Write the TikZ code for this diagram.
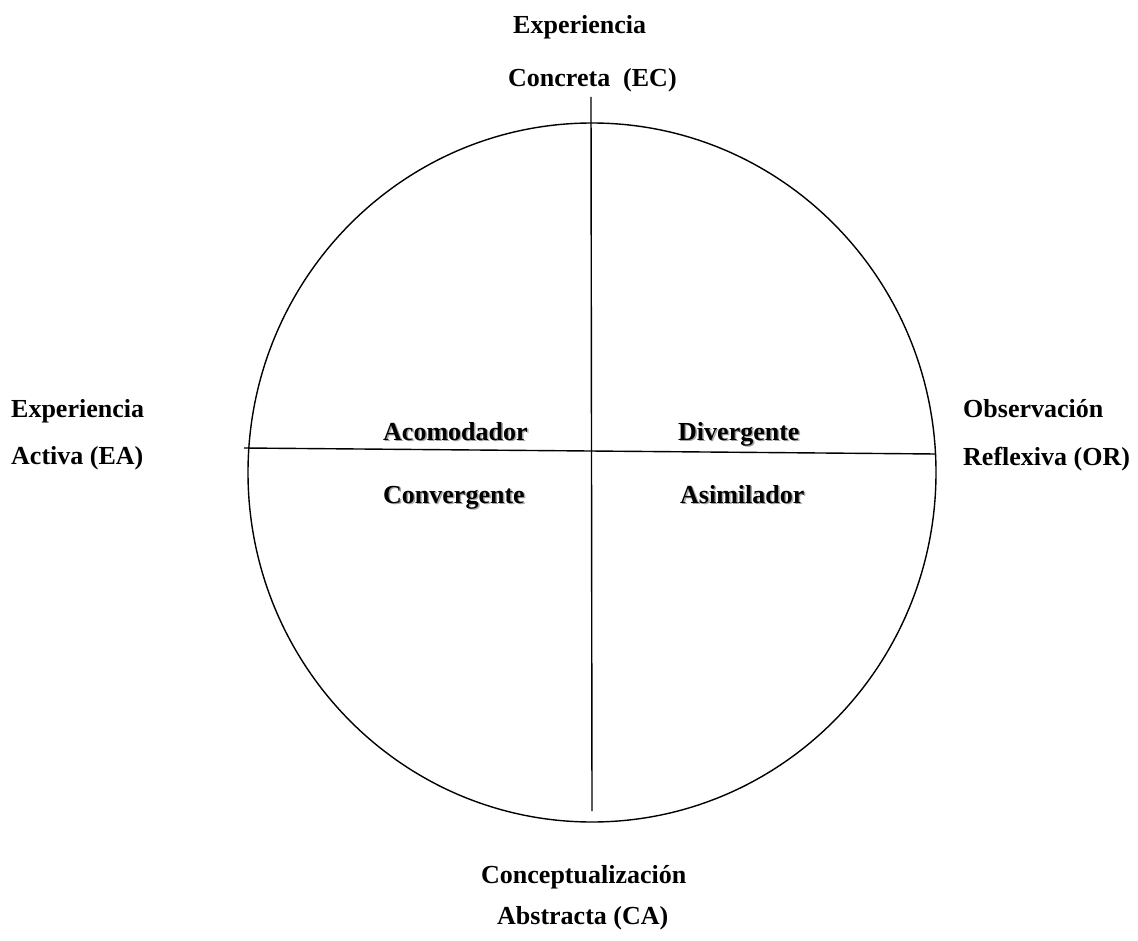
\documentclass[tikz,border=0pt]{standalone}
\usepackage{fontspec}
\setmainfont{Liberation Serif}
\usetikzlibrary{shapes.geometric}
\begin{document}
\begin{tikzpicture}[x=1pt,y=-1pt,
  lbl/.style={font=\fontsize{26}{30}\selectfont\bfseries, inner sep=0pt, anchor=base west},
  quad/.style={lbl},
  shadowtxt/.style={lbl, text=black!35},
  ln/.style={line width=1.4pt, black}]
\useasboundingbox (0,0) rectangle (1138,941);
% circle
\node[draw, line width=1.4pt, ellipse, minimum width=688pt, minimum height=699pt, inner sep=0pt] (circ) at (592,472.5) {};
% axes
\coordinate (vt) at (591,97);
\coordinate (vb) at (592,811);
\coordinate (hl) at (244,448);
\coordinate (hr) at (936,454);
\draw[ln] (vt) -- (vb);
\draw[ln] (hl) -- (hr);
% outer labels
\node[lbl] (ec1) at (513,34) {Experiencia};
\node[lbl] (ec2) at (508,87) {Concreta\ \ (EC)};
\node[lbl] (ea1) at (11,417) {Experiencia};
\node[lbl] (ea2) at (11,464) {Activa (EA)};
\node[lbl] (or1) at (963,417) {Observación};
\node[lbl] (or2) at (963,465) {Reflexiva (OR)};
\node[lbl] (ca1) at (481,883) {Conceptualización};
\node[lbl] (ca2) at (497,924) {Abstracta (CA)};
% quadrant labels with shadow
\node[shadowtxt] at (384.5,441.5) {Acomodador};
\node[quad] (acc) at (383,440) {Acomodador};
\node[shadowtxt] at (679.5,441.5) {Divergente};
\node[quad] (div) at (678,440) {Divergente};
\node[shadowtxt] at (384.5,504.5) {Convergente};
\node[quad] (con) at (383,503) {Convergente};
\node[shadowtxt] at (681.5,504.5) {Asimilador};
\node[quad] (asi) at (680,503) {Asimilador};
\end{tikzpicture}
\end{document}
